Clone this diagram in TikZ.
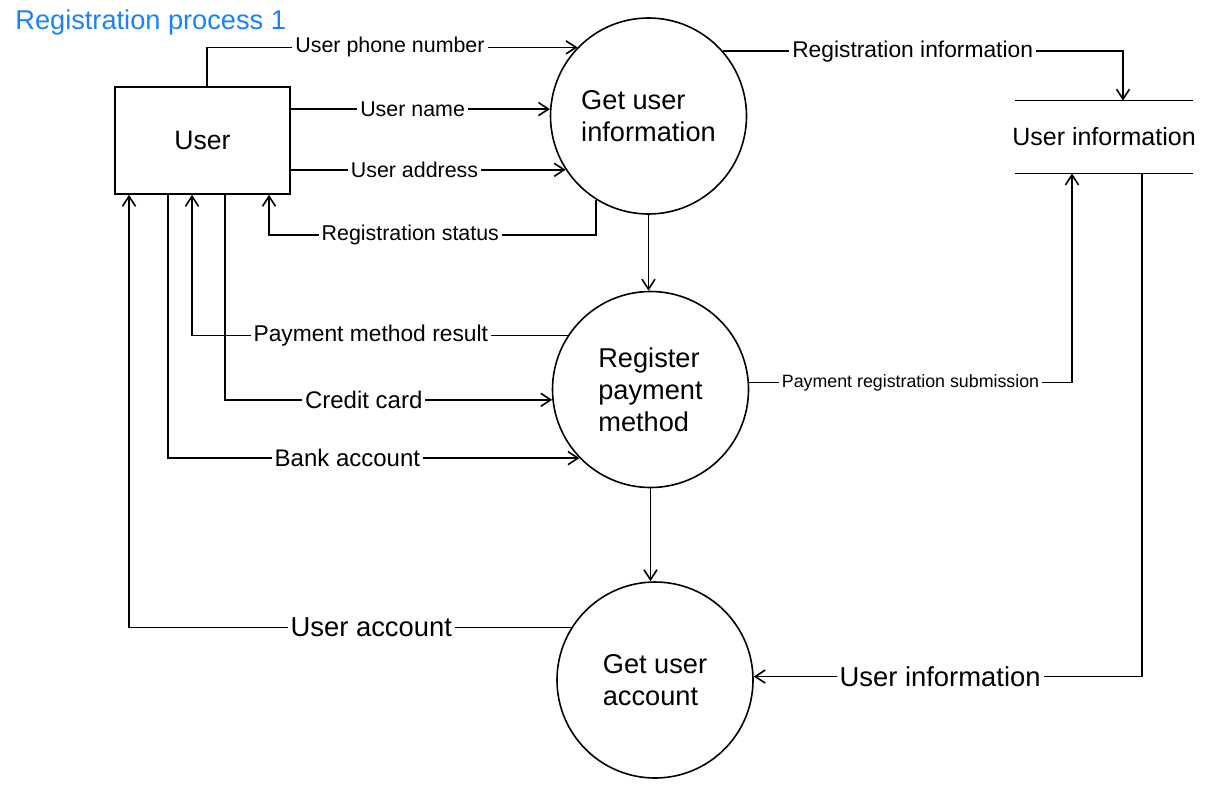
\documentclass[tikz,border=0pt]{standalone}
\usepackage{fontspec}
\setmainfont{Liberation Sans}
\usetikzlibrary{arrows.meta, positioning}
\definecolor{titleblue}{RGB}{25,130,250}

\begin{document}
\begin{tikzpicture}[
    x=0.5pt,
    y=-0.5pt,
    on grid,
    flow/.style={draw, line width=0.8pt, -{Straight Barb[length=5pt,width=6.5pt]}},
    wire/.style={draw, line width=0.8pt},
    lbl/.style={fill=white, inner sep=1.5pt, font=\fontsize{#1}{#1}\selectfont},
    lbl/.default=10.7,
    process/.style={circle, draw, line width=0.8pt, minimum size=98pt, inner sep=0pt,
        align=left, font=\fontsize{13.6}{16}\selectfont},
    entity/.style={rectangle, draw, line width=0.8pt, minimum width=87.5pt,
        minimum height=53.5pt, font=\fontsize{13.3}{16}\selectfont},
    datastore/.style={rectangle, inner sep=0pt, minimum width=89pt, minimum height=36pt,
        font=\fontsize{12.5}{15}\selectfont},
]
    \useasboundingbox (0,0) rectangle (1208,793);

    \node[text=titleblue, anchor=west, inner sep=0pt, font=\fontsize{13.6}{16}\selectfont] (title) at (15,22) {Registration process 1};

    \node[process]                                          (getinfo) at (648.5,116) {Get user\\information};
    \node[process, below right=136.75pt and 1pt of getinfo] (payment) {Register\\payment\\method};
    \node[process, below right=145.25pt and 2.25pt of payment] (account) {Get user\\account};
    \node[entity]                                           (user) at (202.5,140.5) {User};
    \node[datastore]                                        (infostore) at (1104,137) {User information};

    % data store borders
    \draw[wire] ([xshift=-44.5pt]infostore.north) -- ([xshift=44.5pt]infostore.north);
    \draw[wire] ([xshift=-44.5pt]infostore.south) -- ([xshift=44.5pt]infostore.south);

    % user -> get user information
    \draw[flow] ([xshift=2.25pt]user.north) |- node[lbl, pos=0.747] {User phone number} (getinfo.136.6);
    \draw[flow] (getinfo.176.5 -| user.east) -- node[lbl, pos=0.47] {User name} (getinfo.176.5);
    \draw[flow] (getinfo.213.8 -| user.east) -- node[lbl, pos=0.45] {User address} (getinfo.213.8);
    \draw[flow] (getinfo.238) -- ++(0,35) -| node[lbl, pos=0.284] {Registration status} ([xshift=33.25pt]user.south);
    \draw[flow] (getinfo.41.5) -| node[lbl=11.4, pos=0.237] {Registration information} ([xshift=9.5pt]infostore.north);
    \draw[flow] (getinfo.south) -- (getinfo.south |- payment.north);

    % register payment method
    \draw[flow] (payment.147.6) -| node[lbl=11.4, pos=0.262] {Payment method result} ([xshift=-5.25pt]user.south);
    \draw[flow] ([xshift=11.25pt]user.south) |- node[lbl=12, pos=0.712] {Credit card} (payment.186.1);
    \draw[flow] ([xshift=-17.25pt]user.south) |- node[lbl=12, pos=0.718] {Bank account} (payment.224.4);
    \draw[flow] (payment.4.4) -| node[lbl=8.9, pos=0.25] {Payment registration submission} ([xshift=-16pt]infostore.south);
    \draw[flow] (payment.south) -- (payment.south |- account.north);

    % get user account
    \draw[flow] (account.148.7) -| node[lbl=13.7, pos=0.226] {User account} ([xshift=-36.75pt]user.south);
    \draw[flow] ([xshift=19pt]infostore.south) |- node[lbl=13.7, pos=0.76] {User information} (account.2);
\end{tikzpicture}
\end{document}
